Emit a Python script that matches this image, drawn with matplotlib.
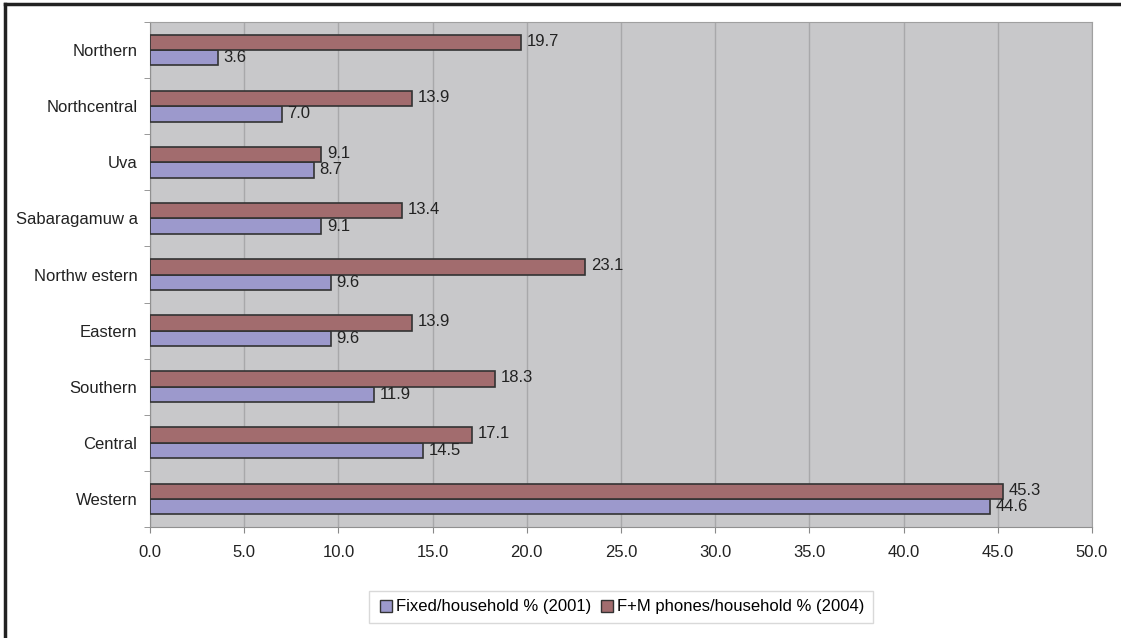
import matplotlib
matplotlib.use("Agg")
import matplotlib.pyplot as plt
import numpy as np
from matplotlib.lines import Line2D

categories = ["Northern", "Northcentral", "Uva", "Sabaragamuw a", "Northw estern",
              "Eastern", "Southern", "Central", "Western"]
fixed_2001 = [3.6, 7.0, 8.7, 9.1, 9.6, 9.6, 11.9, 14.5, 44.6]
fm_2004 = [19.7, 13.9, 9.1, 13.4, 23.1, 13.9, 18.3, 17.1, 45.3]
xticks = [0, 5, 10, 15, 20, 25, 30, 35, 40, 45, 50]
series_names = ["Fixed/household % (2001)", "F+M phones/household % (2004)"]

plt.rcParams['font.family'] = ['Liberation Sans', 'DejaVu Sans']
FS = 12

fig = plt.figure(figsize=(11.21, 6.38), dpi=100)
ax = fig.add_axes([150/1121, 1-527/638, (1092-150)/1121, (527-22)/638])

blue = "#9c99cc"
red = "#a26c6e"
n = len(categories)
y = np.arange(n)[::-1].astype(float)
h = 0.275
ax.barh(y - h/2, fixed_2001, height=h, color=blue, edgecolor="#333333", linewidth=1.2, zorder=3)
ax.barh(y + h/2, fm_2004, height=h, color=red, edgecolor="#333333", linewidth=1.2, zorder=3)

for yi, v in zip(y, fixed_2001):
    ax.text(v + 0.3, yi - h/2, f"{v:.1f}", va="center", ha="left", fontsize=FS, color="#222222", zorder=4)
for yi, v in zip(y, fm_2004):
    ax.text(v + 0.3, yi + h/2 + 0.02, f"{v:.1f}", va="center", ha="left", fontsize=FS, color="#222222", zorder=4)

ax.set_facecolor("#c8c8ca")
ax.set_xlim(0, 50)
ax.set_ylim(-0.5, n - 0.5)
ax.set_xticks(xticks)
ax.set_xticklabels([f"{t:.1f}" for t in xticks], fontsize=FS, color="#222222")
ax.set_yticks(y)
ax.set_yticklabels(categories, fontsize=FS, color="#222222")
ax.set_yticks(np.arange(n + 1) - 0.5, minor=True)
ax.tick_params(axis="y", which="major", length=0, pad=9)
ax.tick_params(axis="y", which="minor", length=4, color="#888888")
ax.tick_params(axis="x", length=4, color="#888888", pad=9)
ax.grid(axis="x", color="#a8a8aa", linewidth=1.0, zorder=0)
for s in ["top", "right"]:
    ax.spines[s].set_color("#a0a0a0")
for s in ["left", "bottom"]:
    ax.spines[s].set_color("#909090")

handles = [Line2D([], [], marker="s", linestyle="none", markersize=8, markerfacecolor=blue, markeredgecolor="#333333"),
           Line2D([], [], marker="s", linestyle="none", markersize=8, markerfacecolor=red, markeredgecolor="#333333")]
leg = fig.legend(handles, series_names, loc="center", bbox_to_anchor=(621/1121, 1-607/638), ncol=2,
                 fontsize=FS, frameon=True, fancybox=False, handletextpad=0.15, columnspacing=0.4,
                 borderpad=0.5, handlelength=1.0)
leg.get_frame().set_edgecolor("#d0d0d0")
leg.get_frame().set_linewidth(1.0)

# outer border (top and left visible)
fig.add_artist(Line2D([5/1121, 1], [1-4/638, 1-4/638], color="#222222", linewidth=2.5, transform=fig.transFigure))
fig.add_artist(Line2D([5/1121, 5/1121], [0, 1-4/638], color="#222222", linewidth=2.5, transform=fig.transFigure))

fig.savefig("out.png", dpi=100)
